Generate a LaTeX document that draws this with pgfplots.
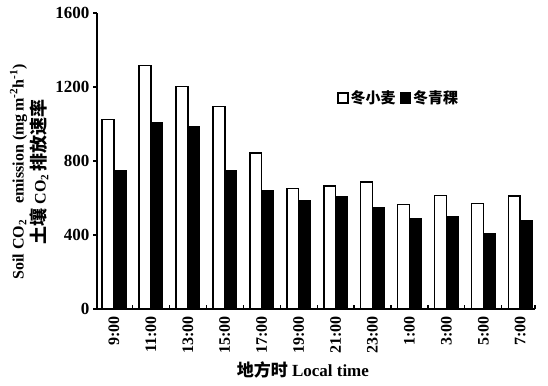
\documentclass[border=0pt]{standalone}
\usepackage{pgfplots}
\pgfplotsset{compat=1.18}
\usepackage{fontspec}
\setmainfont{Liberation Serif}
\newfontfamily\cjk{Noto Sans CJK SC}
\begin{document}
\begin{tikzpicture}
\begin{axis}[
  scale only axis, width=438pt, height=296pt,
  clip=false,
  ymin=0, ymax=1600,
  ytick={0,400,800,1200,1600},
  yticklabels={0,400,800,1200,1600},
  xmin=-0.46, xmax=11.4,
  axis lines*=left,
  axis line style={line width=1.8pt},
  tick align=outside,
  major tick length=4pt,
  minor tick length=4pt,
  tick style={line width=1.2pt, black},
  ybar=0pt, bar width=0.32,
  xtick={0,...,11},
  xticklabels={9:00,11:00,13:00,15:00,17:00,19:00,21:00,23:00,1:00,3:00,5:00,7:00},
  major x tick style={draw=none},
  minor xtick={0.5,1.5,...,10.5,11.4},
  minor x tick style={yshift=4pt, line width=1.2pt},
  xticklabel style={rotate=90, anchor=east, font=\fontsize{16}{16}\selectfont\bfseries},
  yticklabel style={font=\fontsize{17}{17}\selectfont\bfseries},
  ylabel={Soil CO\textsubscript{2}\quad emission (mg\,m\textsuperscript{-2}h\textsuperscript{-1})\\{\cjk\bfseries\fontsize{18}{22}\selectfont 土壤} CO\textsubscript{2}\,{\cjk\bfseries\fontsize{18}{22}\selectfont 排放速率}},
  ylabel style={align=center, at={(rel axis cs:-0.155,0.463)}, anchor=center, font=\fontsize{16}{22}\selectfont\bfseries},
  xlabel={{\cjk\bfseries 地方时} \textbf{Local time}},
  xlabel style={at={(rel axis cs:0.47,-0.206)}, anchor=center, font=\fontsize{17}{17}\selectfont},
  legend columns=2,
  legend style={draw=none, fill=none, at={(rel axis cs:0.548,0.713)}, anchor=west,
    inner sep=0pt, font=\cjk\bfseries\fontsize{15}{15}\selectfont,
    /tikz/every even column/.append style={column sep=2pt}},
  legend image code/.code={\draw[#1, line width=1.5pt] (0pt,-5pt) rectangle (10pt,5pt);},
]
\addplot[fill=white, draw=black, line width=1.5pt] coordinates {
 (0,1024) (1,1316) (2,1203) (3,1094) (4,844) (5,652) (6,664) (7,687) (8,565) (9,614) (10,569) (11,610)};
\addplot[fill=black, draw=black, line width=1.5pt] coordinates {
 (0,745) (1,1007) (2,986) (3,745) (4,641) (5,585) (6,605) (7,547) (8,488) (9,499) (10,409) (11,479)};
\legend{冬小麦,冬青稞}
\coordinate (bbA) at (rel axis cs:-0.2215,-0.260);
\coordinate (bbB) at (rel axis cs:1.0297,1.0439);
\end{axis}
\path (bbA) rectangle (bbB);
\end{tikzpicture}
\end{document}
